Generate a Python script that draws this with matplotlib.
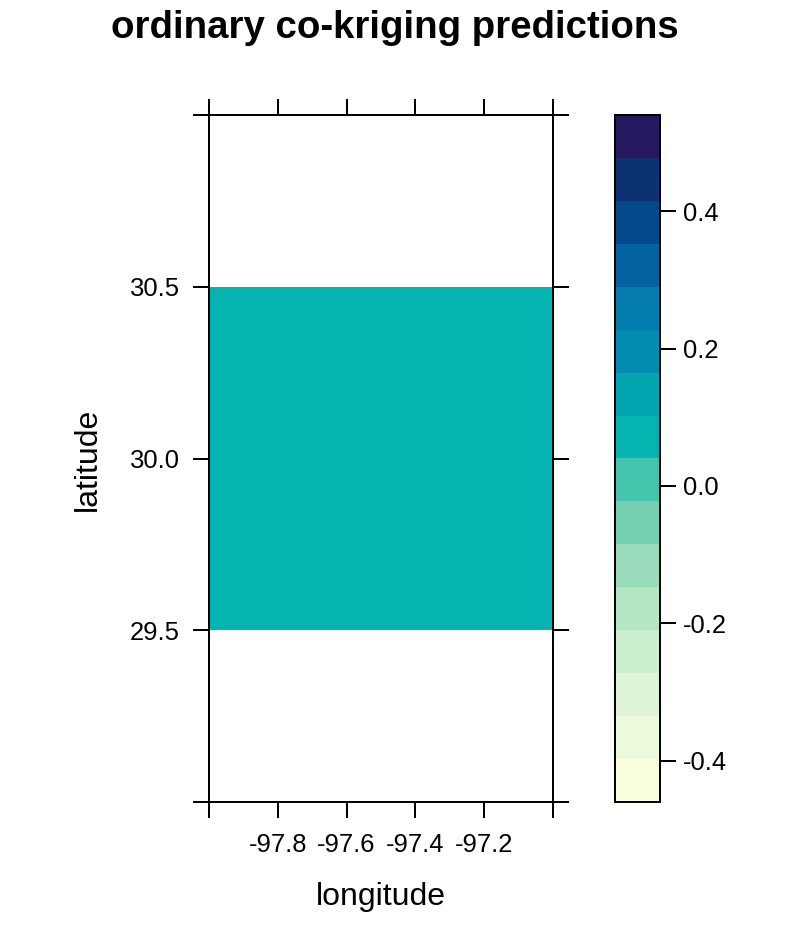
import numpy as np
import matplotlib
matplotlib.use("Agg")
import matplotlib.pyplot as plt
from matplotlib.colors import ListedColormap, BoundaryNorm

plt.rcParams['font.family'] = ['Liberation Sans', 'DejaVu Sans']
plt.rcParams['axes.unicode_minus'] = False

# data
lon_edges = [-98.0, -97.0]
lat_edges = [29.5, 30.5]
pred_values = [[0.07]]

level_breaks = [-0.46, -0.3975, -0.335, -0.2725, -0.21, -0.1475, -0.085, -0.0225,
                0.04, 0.1025, 0.165, 0.2275, 0.29, 0.3525, 0.415, 0.4775, 0.54]
level_colors = ['#FBFEDC', '#EDFADB', '#DEF5D8', '#CBEFCC', '#B3E6C3', '#99DBBB',
                '#74CFB3', '#45C4AD', '#05B4B0', '#03A5B1', '#028CAF', '#037BAE',
                '#0562A0', '#034A8A', '#0C3274', '#26185F']

x_ticks = [-98.0, -97.8, -97.6, -97.4, -97.2, -97.0]
x_labels = ['', '-97.8', '-97.6', '-97.4', '-97.2', '']
y_ticks = [29.0, 29.5, 30.0, 30.5, 31.0]
y_labels = ['', '29.5', '30.0', '30.5', '']
cb_ticks = [-0.4, -0.2, 0.0, 0.2, 0.4]
cb_labels = ['-0.4', '-0.2', '0.0', '0.2', '0.4']

W, H, DPI = 810, 951, 192
fig = plt.figure(figsize=(W / DPI, H / DPI), dpi=DPI)

def rect(x0, y0, x1, y1):
    return [x0 / W, 1 - y1 / H, (x1 - x0) / W, (y1 - y0) / H]

cmap = ListedColormap(level_colors)
norm = BoundaryNorm(level_breaks, cmap.N)

ax = fig.add_axes(rect(209, 115, 553, 802))
ax.pcolormesh(lon_edges, lat_edges, np.array(pred_values), cmap=cmap, norm=norm)
ax.set_xlim(-98.0, -97.0)
ax.set_ylim(29.0, 31.0)
ax.set_xticks(x_ticks)
ax.set_xticklabels(x_labels)
ax.set_yticks(y_ticks)
ax.set_yticklabels(y_labels)
ax.tick_params(direction='out', length=6, width=0.75, labelsize=9.6,
               top=True, right=True, color='black')
ax.tick_params(axis='x', pad=5.5)
ax.tick_params(axis='y', pad=5)
for s in ax.spines.values():
    s.set_linewidth(0.75)

cax = fig.add_axes(rect(615, 115, 660, 802))
cb_y = np.array(level_breaks)
cax.pcolormesh([0, 1], cb_y, np.array(level_breaks[:-1]).reshape(-1, 1) + 1e-6,
               cmap=cmap, norm=norm)
cax.set_xlim(0, 1)
cax.set_ylim(level_breaks[0], level_breaks[-1])
cax.set_xticks([])
cax.yaxis.tick_right()
cax.set_yticks(cb_ticks)
cax.set_yticklabels(cb_labels)
cax.tick_params(direction='out', length=6, width=0.75, labelsize=9.6, pad=2.5)
for s in cax.spines.values():
    s.set_linewidth(0.75)

fig.text(394.5 / W, 1 - 28 / H, 'ordinary co-kriging predictions',
         ha='center', va='center', fontsize=14.4, fontweight='bold')
fig.text(381 / W, 1 - 897 / H, 'longitude', ha='center', va='center', fontsize=12)
fig.text(87.5 / W, 1 - 459 / H, 'latitude', ha='center', va='center',
         rotation=90, fontsize=12)

fig.savefig('out.png', dpi=DPI)
